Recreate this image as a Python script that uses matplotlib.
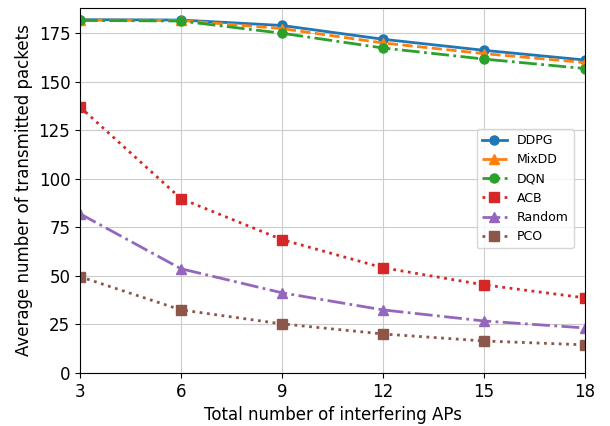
import matplotlib
matplotlib.use('Agg')
import matplotlib.pyplot as plt

aps = [3, 6, 9, 12, 15, 18]
ddpg = [182.0, 181.8, 179.0, 171.9, 166.2, 161.2]
mixdd = [181.8, 181.6, 177.4, 170.0, 164.5, 159.9]
dqn = [181.6, 181.3, 175.0, 167.4, 161.7, 156.8]
acb = [137.0, 89.8, 68.7, 54.2, 45.4, 38.7]
rand = [82.0, 53.7, 41.3, 32.5, 26.8, 23.2]
pco = [49.6, 32.5, 25.3, 20.1, 16.5, 14.5]

fig = plt.figure(figsize=(6.1, 4.26), dpi=100)
ax = fig.add_axes([80/610, 1-373/426, 505/610, 365/426])

ax.plot(aps, ddpg, '-o', color='tab:blue', lw=2, ms=6.5, label='DDPG')
ax.plot(aps, mixdd, '--^', color='tab:orange', lw=2, ms=6.5, label='MixDD')
ax.plot(aps, dqn, '-.o', color='tab:green', lw=2, ms=6.5, label='DQN')
ax.plot(aps, acb, ':s', color='tab:red', lw=2, ms=6.5, label='ACB')
ax.plot(aps, rand, '-.^', color='tab:purple', lw=2, ms=6.5, label='Random')
ax.plot(aps, pco, ':s', color='tab:brown', lw=2, ms=6.5, label='PCO')

ax.set_xlim(3, 18)
ax.set_ylim(0, 188)
ax.set_xticks(aps)
ax.set_yticks([0, 25, 50, 75, 100, 125, 150, 175])
ax.tick_params(labelsize=12)
ax.grid(True, color='#cccccc')
ax.set_xlabel('Total number of interfering APs', fontsize=12)
ax.set_ylabel('Average number of transmitted packets', fontsize=12)
ax.legend(loc='center right', bbox_to_anchor=(0.99, 0.505), fontsize=9)

fig.savefig('out.png', dpi=100)
